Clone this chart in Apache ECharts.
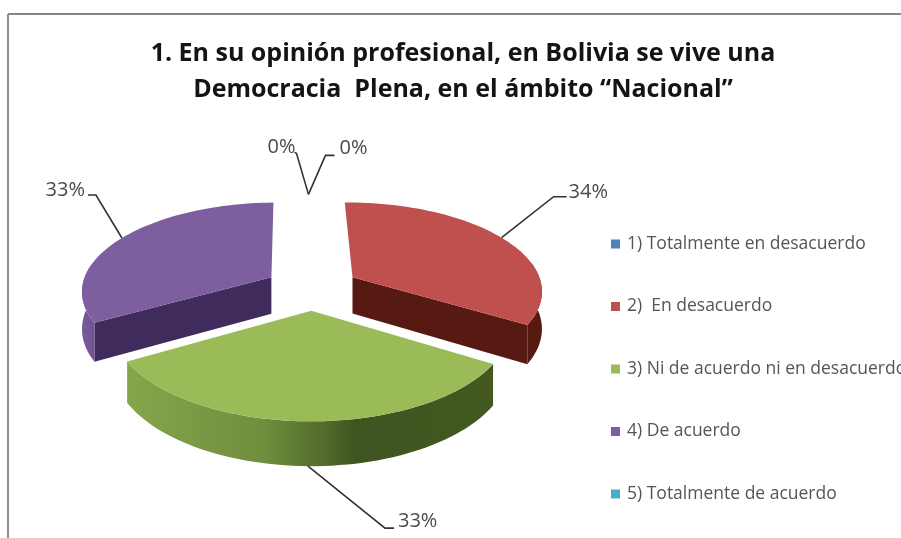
<!DOCTYPE html>
<html>
<head>
<meta charset="utf-8">
<script src="https://cdn.jsdelivr.net/npm/echarts@6/dist/echarts.min.js"></script>
<style>html,body{margin:0;padding:0;background:#fff}#chart{width:901px;height:538px}</style>
</head>
<body>
<div id="chart"></div>
<script>
// Survey answers and their shares, in percent
const categories = [
  '1) Totalmente en desacuerdo',
  '2)  En desacuerdo',
  '3) Ni de acuerdo ni en desacuerdo',
  '4) De acuerdo',
  '5) Totalmente de acuerdo'
];
const shares = [0, 34, 33, 33, 0];
const titleLines = [
  '1. En su opinión profesional, en Bolivia se vive una',
  'Democracia  Plena, en el ámbito “Nacional”'
];

// Palette: top face, facing wall and outer rim of each wedge
const topColors = ['#4f81bd', '#c0504d', '#9bbb59', '#7d5fa0', '#4bacc6'];
const wallColors = ['#2c4d75', '#571a13', '#4f6228', '#3f2c5c', '#205867'];
const rimStops = [
  null,
  [[0, '#571a13'], [1, '#571a13']],
  [[0, '#86a64b'], [0.38, '#6f8d3c'], [0.55, '#51692a'], [0.62, '#3f5420'], [1, '#44591f']],
  [[0, '#7a5c9e'], [1, '#6f528f']],
  null
];

// Leader line bends and label placement, relative to the wedge's anchor on the rim
const leaders = [
  { bend: [-12, -41], tail: [-14, -42], text: [-13, -47], align: 'right' },
  { bend: [52, -41], tail: [65, -41], text: [67, -45], align: 'left' },
  { bend: [77, 62], tail: [86, 62], text: [90, 55], align: 'left' },
  { bend: [-26, -43], tail: [-34, -43], text: [-37, -48], align: 'right' },
  { bend: [17, -39], tail: [26, -39], text: [31, -46], align: 'left' }
];

// Tilted-disc projection for the exploded pie
const view = { cx: 312, cy: 288, spreadX: 190, spreadY: 88, persp: 0.14, depth: 37, explode: 0.25, start: -1 };
const rad = d => d * Math.PI / 180;

function project(X, Y, drop) {
  const s = 1 / (1 - view.persp * Y);
  return [view.cx + view.spreadX * X * s, view.cy + view.spreadY * Y * s + drop * view.depth * s];
}

// Point of a wedge whose bisector is `mid`, at clock angle `a` and radius `r`
function wedgePoint(mid, a, r, drop) {
  const X = view.explode * Math.sin(rad(mid)) + r * Math.sin(rad(a));
  const Y = -view.explode * Math.cos(rad(mid)) - r * Math.cos(rad(a));
  return project(X, Y, drop);
}

function arcPoints(mid, from, to, drop) {
  const pts = [];
  const n = Math.max(2, Math.ceil(Math.abs(to - from) / 2));
  for (let i = 0; i <= n; i++) pts.push(wedgePoint(mid, from + (to - from) * i / n, 1, drop));
  return pts;
}

const total = shares.reduce((a, b) => a + b, 0);

function renderWedge(index, value) {
  const before = shares.slice(0, index).reduce((a, b) => a + b, 0);
  const a0 = view.start + before / total * 360;
  const a1 = a0 + value / total * 360;
  const mid = (a0 + a1) / 2;
  const children = [];

  if (value > 0) {
    // Flat walls that turn towards the viewer
    const walls = [];
    if (a1 > 90 && a1 < 180) walls.push(a1);
    if (a0 > 180 && a0 < 270) walls.push(a0);
    walls.forEach(edge => {
      children.push({
        type: 'polygon',
        shape: { points: [wedgePoint(mid, edge, 0, 0), wedgePoint(mid, edge, 1, 0), wedgePoint(mid, edge, 1, 1), wedgePoint(mid, edge, 0, 1)] },
        style: { fill: wallColors[index] }
      });
    });
    // Outer rim on the near half of the disc
    const rimFrom = Math.max(a0, 80);
    const rimTo = Math.min(a1, 280);
    if (rimTo > rimFrom) {
      children.push({
        type: 'polygon',
        shape: { points: arcPoints(mid, rimFrom, rimTo, 0).concat(arcPoints(mid, rimTo, rimFrom, 1)) },
        style: {
          fill: {
            type: 'linear', x: 0, y: 0, x2: 1, y2: 0,
            colorStops: rimStops[index].map(s => ({ offset: s[0], color: s[1] }))
          }
        }
      });
    }
    // Top face
    children.push({
      type: 'polygon',
      shape: { points: [wedgePoint(mid, mid, 0, 0)].concat(arcPoints(mid, a0, a1, 0)) },
      style: { fill: topColors[index] }
    });
  }

  // Leader line and percentage label
  const facing = Math.abs(mid - 180) < 60 ? 1 : 0;
  const anchor = wedgePoint(mid, mid, 1, facing);
  const lead = leaders[index];
  const at = d => [anchor[0] + d[0], anchor[1] + d[1]];
  children.push({
    type: 'polyline',
    shape: { points: [anchor, at(lead.bend), at(lead.tail)] },
    style: { fill: null, stroke: '#333333', lineWidth: 1.6 }
  });
  const t = at(lead.text);
  children.push({
    type: 'text',
    x: t[0], y: t[1],
    style: {
      text: value + '%',
      fill: '#4a4a4a',
      font: '20px "Open Sans"',
      align: lead.align,
      verticalAlign: 'middle'
    }
  });
  return { type: 'group', children };
}

const chart = echarts.init(document.getElementById('chart'), null, { renderer: 'canvas' });
chart.setOption({
  animation: false,
  backgroundColor: '#ffffff',
  title: {
    text: titleLines.join('\n'),
    left: 458,
    top: 31,
    textAlign: 'center',
    textStyle: { fontFamily: 'Open Sans', fontWeight: 'bold', fontSize: 25, lineHeight: 36, color: '#141414' }
  },
  legend: {
    orient: 'vertical',
    left: 606,
    top: 228,
    icon: 'rect',
    itemWidth: 9,
    itemHeight: 9,
    itemGap: 40.5,
    data: categories,
    selectedMode: false,
    textStyle: { fontFamily: 'Open Sans', fontSize: 17.5, color: '#555555', lineHeight: 22, padding: [0, 0, 0, 2] }
  },
  graphic: [
    { type: 'line', shape: { x1: 8, y1: 14, x2: 901, y2: 14 }, style: { stroke: '#858585', lineWidth: 2 } },
    { type: 'line', shape: { x1: 8, y1: 14, x2: 8, y2: 538 }, style: { stroke: '#8f8f8f', lineWidth: 2 } }
  ],
  series: categories.map((name, i) => ({
    type: 'custom',
    name,
    coordinateSystem: 'none',
    z: i === 2 ? 4 : 3,
    silent: true,
    itemStyle: { color: topColors[i] },
    data: [[shares[i]]],
    renderItem: (params, api) => renderWedge(i, api.value(0))
  }))
});
</script>
</body>
</html>
